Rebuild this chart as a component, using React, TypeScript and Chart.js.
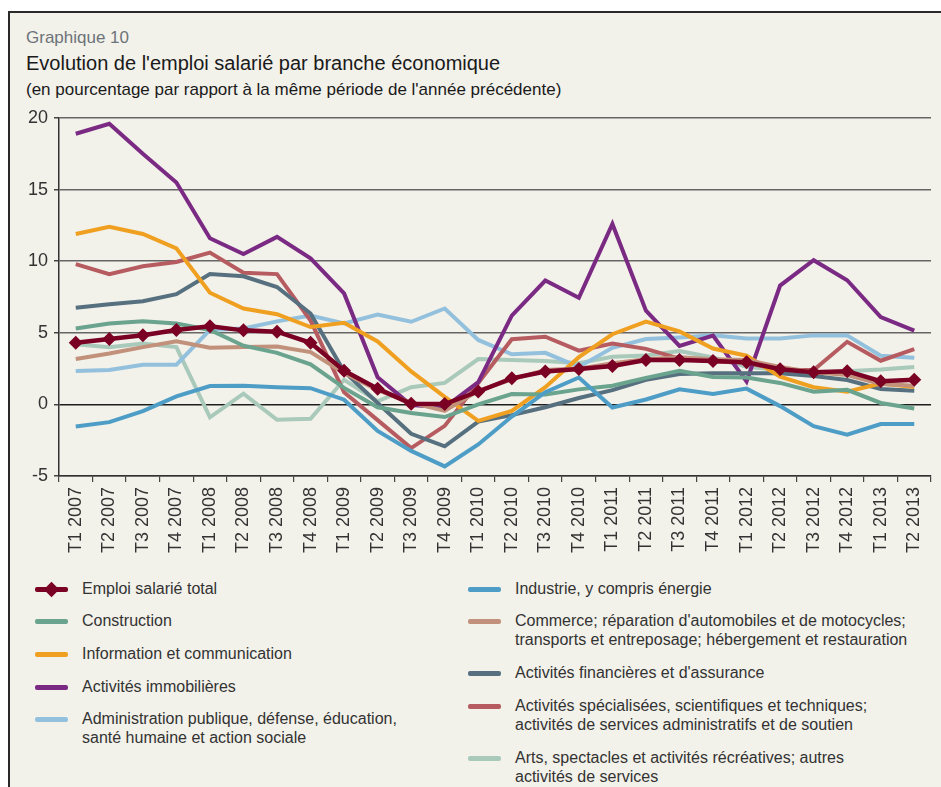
import React, { useEffect, useRef } from "react";
import { Chart, registerables } from "chart.js";

Chart.register(...registerables);

const quarters = [
  "T1 2007", "T2 2007", "T3 2007", "T4 2007",
  "T1 2008", "T2 2008", "T3 2008", "T4 2008",
  "T1 2009", "T2 2009", "T3 2009", "T4 2009",
  "T1 2010", "T2 2010", "T3 2010", "T4 2010",
  "T1 2011", "T2 2011", "T3 2011", "T4 2011",
  "T1 2012", "T2 2012", "T3 2012", "T4 2012",
  "T1 2013", "T2 2013",
];

const yTicks = [-5, 0, 5, 10, 15, 20];

const totalValues = [4.3, 4.57, 4.83, 5.2, 5.45, 5.17, 5.08, 4.3, 2.35, 1.1, 0.05, 0.02, 0.9, 1.82, 2.3, 2.47, 2.68, 3.1, 3.1, 3.03, 2.95, 2.45, 2.25, 2.32, 1.62, 1.72];
const industrieValues = [-1.55, -1.24, -0.47, 0.56, 1.28, 1.3, 1.2, 1.13, 0.33, -1.85, -3.25, -4.33, -2.8, -0.85, 0.85, 1.88, -0.22, 0.34, 1.05, 0.72, 1.1, -0.12, -1.52, -2.12, -1.37, -1.37];
const constructionValues = [5.3, 5.65, 5.8, 5.65, 5.2, 4.1, 3.6, 2.8, 1.15, -0.2, -0.6, -0.88, 0.0, 0.72, 0.7, 1.05, 1.3, 1.85, 2.35, 1.92, 1.88, 1.5, 0.88, 1.02, 0.1, -0.28];
const commerceValues = [3.17, 3.55, 4.0, 4.4, 3.95, 4.0, 4.05, 3.65, 2.2, 1.0, 0.12, -0.45, 0.95, 1.75, 2.4, 2.5, 2.88, 3.15, 3.3, 3.15, 3.1, 2.62, 2.25, 2.05, 1.42, 1.3];
const informationValues = [11.9, 12.4, 11.9, 10.9, 7.8, 6.7, 6.3, 5.4, 5.7, 4.4, 2.3, 0.52, -1.15, -0.45, 1.2, 3.3, 4.9, 5.78, 5.1, 3.9, 3.4, 1.93, 1.2, 0.88, 1.46, 1.22];
const financieresValues = [6.75, 7.0, 7.2, 7.7, 9.1, 8.95, 8.2, 6.35, 2.3, 0.1, -2.05, -2.93, -1.2, -0.75, -0.2, 0.45, 1.0, 1.72, 2.12, 2.17, 2.17, 2.17, 1.98, 1.7, 1.08, 0.95];
const immobilieresValues = [18.9, 19.6, 17.5, 15.5, 11.6, 10.5, 11.7, 10.2, 7.75, 1.9, -0.05, -0.2, 1.55, 6.2, 8.65, 7.45, 12.6, 6.55, 4.08, 4.8, 1.6, 8.3, 10.07, 8.67, 6.1, 5.15];
const specialiseesValues = [9.8, 9.1, 9.65, 9.95, 10.6, 9.2, 9.1, 5.85, 0.85, -1.1, -3.05, -1.5, 1.5, 4.55, 4.73, 3.75, 4.25, 3.88, 3.2, 3.0, 2.9, 2.4, 2.4, 4.37, 3.05, 3.86];
const administrationValues = [2.33, 2.4, 2.77, 2.77, 5.2, 5.3, 5.8, 6.2, 5.65, 6.27, 5.77, 6.7, 4.5, 3.5, 3.6, 2.62, 3.95, 4.57, 4.68, 4.83, 4.6, 4.6, 4.82, 4.82, 3.4, 3.26];
const artsValues = [4.2, 4.0, 4.25, 4.0, -0.9, 0.75, -1.07, -1.0, 1.72, 0.22, 1.2, 1.5, 3.17, 3.1, 3.03, 2.88, 3.32, 3.42, 3.72, 3.28, 2.62, 2.4, 2.2, 2.31, 2.43, 2.62];

const seriesNames = [
  "Emploi salarié total",
  "Industrie, y compris énergie",
  "Construction",
  "Commerce; réparation d'automobiles et de motocycles;\ntransports et entreposage; hébergement et restauration",
  "Information et communication",
  "Activités financières et d'assurance",
  "Activités immobilières",
  "Activités spécialisées, scientifiques et techniques;\nactivités de services administratifs et de soutien",
  "Administration publique, défense, éducation,\nsanté humaine et action sociale",
  "Arts, spectacles et activités récréatives; autres\nactivités de services",
];

const seriesColors = [
  "#7a0024", // total
  "#4d9dc6", // industrie
  "#6aa38e", // construction
  "#c2917b", // commerce
  "#f0a020", // information
  "#56707f", // financières
  "#7b2a84", // immobilières
  "#b65c61", // spécialisées
  "#93c1dd", // administration
  "#a9c9bb", // arts
];

const seriesValues = [
  totalValues, industrieValues, constructionValues, commerceValues, informationValues,
  financieresValues, immobilieresValues, specialiseesValues, administrationValues, artsValues,
];

const legendLeft = [0, 2, 4, 6, 8];
const legendRight = [1, 3, 5, 7, 9];
const legendLeftY = [589, 621, 654, 687, 719];
const legendRightY = [589, 621, 673, 706, 758];

const FONT = '"Liberation Sans", Arial, Helvetica, sans-serif';
const BG = "#f2f1ea";

function LegendItem({ idx, x, y }: { idx: number; x: number; y: number }) {
  const color = seriesColors[idx];
  const lines = seriesNames[idx].split("\n");
  return (
    <div style={{ position: "absolute", left: x, top: y - 10, height: 20 }}>
      <div
        style={{
          position: "absolute",
          left: 0,
          top: 8,
          width: 33,
          height: 5,
          background: color,
          borderRadius: 2,
        }}
      />
      {idx === 0 && (
        <div
          style={{
            position: "absolute",
            left: 11,
            top: 5,
            width: 11,
            height: 11,
            background: color,
            transform: "rotate(45deg)",
          }}
        />
      )}
      <div
        style={{
          position: "absolute",
          left: 47,
          top: 0,
          whiteSpace: "nowrap",
          fontFamily: FONT,
          fontSize: 16,
          lineHeight: "19px",
          color: "#333",
        }}
      >
        {lines.map((l, i) => (
          <div key={i}>{l}</div>
        ))}
      </div>
    </div>
  );
}

export default function App() {
  const canvasRef = useRef<HTMLCanvasElement>(null);

  useEffect(() => {
    if (!canvasRef.current) return;
    const datasets = seriesValues.map((vals, i) => ({
      label: seriesNames[i].replace("\n", " "),
      data: vals,
      borderColor: seriesColors[i],
      backgroundColor: seriesColors[i],
      borderWidth: i === 0 ? 4.5 : 4,
      pointRadius: i === 0 ? 7 : 0,
      pointHoverRadius: i === 0 ? 7 : 0,
      pointStyle: "rectRot" as const,
      pointBorderWidth: 0,
      pointBackgroundColor: seriesColors[i],
      tension: 0,
      fill: false,
    }));

    const chart = new Chart(canvasRef.current, {
      type: "line",
      data: { labels: quarters, datasets },
      options: {
        animation: false,
        responsive: false,
        maintainAspectRatio: false,
        devicePixelRatio: 1,
        layout: { padding: { top: 18, right: 6, left: 0, bottom: 0 } },
        plugins: {
          legend: { display: false },
          title: { display: false },
          tooltip: { enabled: false },
        },
        scales: {
          x: {
            offset: true,
            grid: {
              offset: true,
              drawOnChartArea: false,
              drawTicks: true,
              tickLength: 6,
              color: "#444",
              tickColor: "#444",
              lineWidth: 1.2,
            },
            border: { color: "#333", width: 1.5 },
            ticks: {
              autoSkip: false,
              maxRotation: 90,
              minRotation: 90,
              padding: 5,
              color: "#333",
              font: { family: FONT, size: 18 },
            },
            afterFit: (s: any) => {
              s.height = 94;
            },
          },
          y: {
            min: yTicks[0],
            max: yTicks[yTicks.length - 1],
            afterBuildTicks: (s: any) => {
              s.ticks = yTicks.map((v) => ({ value: v }));
            },
            ticks: {
              padding: 6,
              color: "#333",
              font: { family: FONT, size: 18 },
            },
            grid: {
              color: (ctx: any) => (ctx.tick && ctx.tick.value === 0 ? "#1e1e1e" : "#666"),
              lineWidth: 1.5,
              tickLength: 5,
              tickColor: "#444",
            },
            border: { color: "#333", width: 1.5 },
            afterFit: (s: any) => {
              s.width = 59;
            },
          },
        },
      },
    });
    return () => chart.destroy();
  }, []);

  return (
    <div style={{ position: "absolute", left: 0, top: 0, width: 941, height: 787, overflow: "hidden", background: "#fff" }}>
      <div
        style={{
          position: "absolute",
          left: 8,
          top: 11,
          width: 933,
          height: 776,
          background: BG,
          borderLeft: "2px solid #2a2a2a",
          borderTop: "2px solid #2a2a2a",
          boxSizing: "border-box",
        }}
      />
      <div style={{ position: "absolute", left: 26, top: 28, fontFamily: FONT, fontSize: 17, lineHeight: "20px", color: "#6d7379", whiteSpace: "nowrap" }}>
        Graphique 10
      </div>
      <div style={{ position: "absolute", left: 26, top: 51, fontFamily: FONT, fontSize: 20, lineHeight: "24px", color: "#1a1a1a", whiteSpace: "nowrap" }}>
        Evolution de l'emploi salarié par branche économique
      </div>
      <div style={{ position: "absolute", left: 26, top: 79, fontFamily: FONT, fontSize: 17, lineHeight: "22px", color: "#1a1a1a", whiteSpace: "nowrap" }}>
        (en pourcentage par rapport à la même période de l'année précédente)
      </div>
      <canvas
        ref={canvasRef}
        width={941}
        height={470}
        style={{ position: "absolute", left: 0, top: 100, width: 941, height: 470 }}
      />
      {legendLeft.map((idx, k) => (
        <LegendItem key={"l" + idx} idx={idx} x={35} y={legendLeftY[k]} />
      ))}
      {legendRight.map((idx, k) => (
        <LegendItem key={"r" + idx} idx={idx} x={468} y={legendRightY[k]} />
      ))}
    </div>
  );
}
